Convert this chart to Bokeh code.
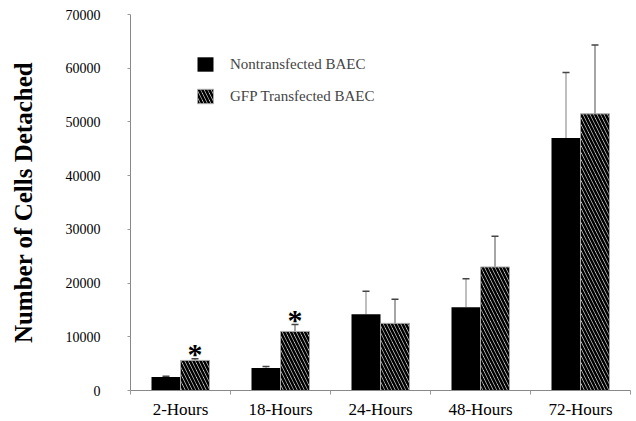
import numpy as np
from bokeh.plotting import figure
from bokeh.models import (ColumnDataSource, Range1d, FixedTicker, Whisker, TeeHead,
                          Legend, LegendItem)
from bokeh.core.properties import value
from bokeh.embed import file_html
from bokeh.resources import INLINE

categories = ["2-Hours", "18-Hours", "24-Hours", "48-Hours", "72-Hours"]
nontransfected = [2500, 4200, 14200, 15500, 47000]
nontransfected_err = [150, 250, 4300, 5300, 12200]
gfp = [5600, 11000, 12500, 23000, 51500]
gfp_err = [300, 1300, 4500, 5700, 12800]
significant = ["*", "*", "", "", ""]
y_ticks = [0, 10000, 20000, 30000, 40000, 50000, 60000, 70000]

FONT = "Liberation Serif"
idx = np.arange(len(categories))
bar_w = 0.29
x_n = idx + 0.5 - bar_w / 2
x_g = idx + 0.5 + bar_w / 2

src_n = ColumnDataSource(dict(x=x_n, top=nontransfected,
                              hi=np.array(nontransfected) + np.array(nontransfected_err)))
src_g = ColumnDataSource(dict(x=x_g, top=gfp,
                              hi=np.array(gfp) + np.array(gfp_err)))

p = figure(width=636, height=421, x_range=Range1d(0, 5), y_range=Range1d(0, 70000),
           output_backend="svg", toolbar_location=None,
           min_border_left=130, min_border_right=6, min_border_top=14, min_border_bottom=31)
p.outline_line_color = None
p.xgrid.visible = False
p.ygrid.visible = False
p.background_fill_color = "white"
p.border_fill_color = "white"

r1 = p.vbar(x="x", top="top", width=bar_w, source=src_n, fill_color="black", line_color=None)
r2 = p.vbar(x="x", top="top", width=bar_w, source=src_g, fill_color="white",
            line_color="#aaaaaa", line_width=1,
            hatch_pattern="\\", hatch_color="black", hatch_weight=2.6, hatch_scale=7)

for src, col in ((src_n, "#aaaaaa"), (src_g, "#888888")):
    w = Whisker(base="x", lower="top", upper="hi", source=src, line_color=col, line_width=1.5,
                upper_head=TeeHead(size=7, line_color="#444444", line_width=1.5), lower_head=None)
    p.add_layout(w)

star_src = ColumnDataSource(dict(x=x_g, y=np.array(gfp) + np.array(gfp_err), t=significant))
p.text(x="x", y="y", text="t", source=star_src, text_font=value(FONT), text_font_style="bold",
       text_font_size="30px", text_align="center", text_baseline="alphabetic", y_offset=-5,
       text_color="black")

# axes
p.xaxis.ticker = FixedTicker(ticks=list(idx + 0.5), minor_ticks=list(range(len(categories) + 1)))
p.xaxis.major_label_overrides = {float(i + 0.5): c for i, c in enumerate(categories)}
p.xaxis.major_tick_line_color = None
p.xaxis.major_tick_out = 0
p.xaxis.major_tick_in = 0
p.xaxis.minor_tick_out = 4
p.xaxis.minor_tick_in = 0
p.xaxis.minor_tick_line_color = "#999999"
p.xaxis.axis_line_color = "#888888"
p.xaxis.major_label_text_font = FONT
p.xaxis.major_label_text_font_size = "17px"
p.xaxis.major_label_text_color = "black"
p.xaxis.major_label_standoff = 5

p.yaxis.ticker = FixedTicker(ticks=y_ticks)
p.yaxis.minor_tick_line_color = None
p.yaxis.major_tick_out = 3
p.yaxis.major_tick_in = 0
p.yaxis.major_tick_line_color = "#999999"
p.yaxis.axis_line_color = "#888888"
p.yaxis.major_label_text_font = FONT
p.yaxis.major_label_text_font_size = "14px"
p.yaxis.major_label_text_color = "black"
p.yaxis.major_label_standoff = 27
p.yaxis.axis_label = "Number of Cells Detached"
p.yaxis.axis_label_text_font = FONT
p.yaxis.axis_label_text_font_style = "bold"
p.yaxis.axis_label_text_font_size = "25px"
p.yaxis.axis_label_text_color = "black"
p.yaxis.axis_label_standoff = 26

legend = Legend(items=[LegendItem(label="Nontransfected BAEC", renderers=[r1]),
                       LegendItem(label="GFP Transfected BAEC", renderers=[r2])],
                location=(65, 285), border_line_color=None, background_fill_alpha=0,
                label_text_font=FONT, label_text_font_size="15px", glyph_width=20,
                glyph_height=18, spacing=14, padding=0, margin=0, label_standoff=15)
p.add_layout(legend)

open("out.html", "w").write(file_html(p, INLINE))
